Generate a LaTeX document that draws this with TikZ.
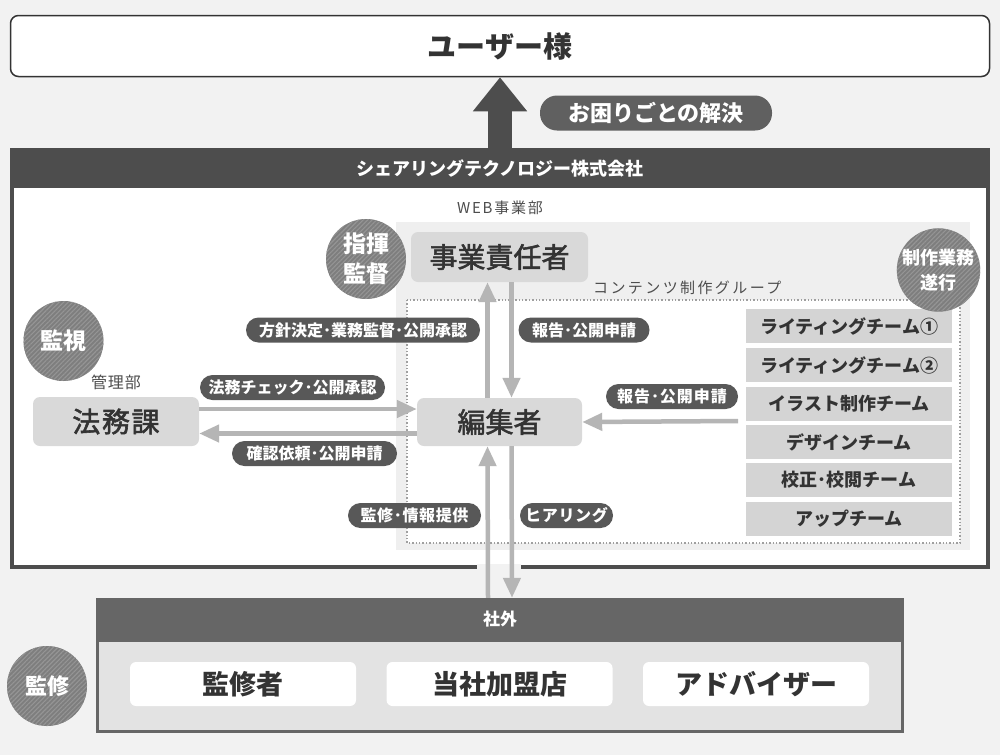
\documentclass[tikz,border=0pt]{standalone}
\usepackage{fontspec}
\setmainfont{Noto Sans CJK JP}
\newfontfamily\medfont{Noto Sans CJK JP}[FakeBold=2]
\usetikzlibrary{arrows.meta,patterns.meta}
\definecolor{bgc}{HTML}{F2F2F2}
\definecolor{darkc}{HTML}{4D4D4D}
\definecolor{pillc}{HTML}{585858}
\definecolor{pill2c}{HTML}{606060}
\definecolor{boxc}{HTML}{D9D9D9}
\definecolor{teamc}{HTML}{D4D4D4}
\definecolor{webc}{HTML}{EFEFEF}
\definecolor{arrc}{HTML}{B5B5B5}
\definecolor{txtc}{HTML}{333333}
\definecolor{hatchbase}{HTML}{7E7E7E}
\definecolor{hatchline}{HTML}{959595}
\definecolor{gaic}{HTML}{666666}
\definecolor{gaibody}{HTML}{E3E3E3}
\newcommand{\myfs}[1]{\fontsize{#1}{#1}\selectfont}
\newcommand{\hdot}{･}
\begin{document}
\begin{tikzpicture}[x=1pt,y=-1pt,
  pill/.style={rectangle, rounded corners=12.5pt, fill=pillc, text=white,
    font=\bfseries\myfs{16}, minimum height=25pt, inner sep=0pt},
  mainbox/.style={rectangle, rounded corners=7pt, fill=boxc, text=txtc,
    font=\medfont\myfs{28}, inner sep=0pt},
  teambox/.style={rectangle, fill=teamc, text=txtc, font=\bfseries\myfs{18},
    minimum width=206pt, minimum height=34pt, inner sep=0pt},
  gaibox/.style={rectangle, rounded corners=6pt, fill=white, text=txtc,
    font=\bfseries\myfs{27}, minimum width=226pt, minimum height=44pt, inner sep=0pt},
  hatch/.style={circle, fill=hatchbase, minimum size=80pt, inner sep=0pt,
    text=white, align=center,
    postaction={pattern={Lines[angle=45,distance=3.2pt,line width=1.1pt]}, pattern color=hatchline}},
  arr/.style={draw=arrc, line width=4.5pt, -{Triangle[length=20pt,width=17pt]}},
  smalllabel/.style={text=darkc, font=\myfs{15}, inner sep=0pt}
]
\useasboundingbox (0,0) rectangle (1000,755);
\fill[bgc] (0,0) rectangle (1000,755);

% user
\node[rectangle, rounded corners=8pt, draw=txtc, line width=1.5pt, fill=white,
  minimum width=979pt, minimum height=61pt, inner sep=0pt,
  font=\bfseries\myfs{29}, text=txtc] (user) at (500,46) {ユーザー様};

% company
\node[rectangle, fill=darkc, minimum width=980pt, minimum height=40pt, inner sep=0pt,
  text=white, font=\bfseries\myfs{18}] (company) at (500,168) {シェアリングテクノロジー株式会社};
\draw[darkc, line width=4pt, fill=white] (12,188) -- (12,567) -- (988,567) -- (988,188);
\fill[bgc] (477,564) rectangle (521,570);

% big arrow
\draw[darkc, line width=24pt, -{Triangle[length=34pt,width=52pt]}] (company.north) -- (user.south);
\node[pill, fill=pill2c, rounded corners=17pt, minimum width=232pt, minimum height=35pt,
  font=\bfseries\myfs{22}] (solve) at (656,113) {お困りごとの解決};

% WEB region
\fill[webc] (396,222) rectangle (970,550);
\node[smalllabel] (weblabel) at (500,208) {\addfontfeature{LetterSpace=12}WEB事業部};
\draw[draw=gray!75, line width=1.4pt, dotted, fill=white] (407,300) rectangle (960,543);
\node[smalllabel, anchor=west] (cglabel) at (593,288) {\addfontfeature{LetterSpace=16}コンテンツ制作グループ};

% main boxes
\node[mainbox, minimum width=177pt, minimum height=50pt] (resp) at (499.5,257) {事業責任者};
\node[mainbox, minimum width=165pt, minimum height=48pt] (edit) at (499.5,422) {編集者};
\node[mainbox, minimum width=166pt, minimum height=49pt] (legal) at (116,421.5) {\addfontfeature{LetterSpace=6}法務課};
\node[smalllabel, font=\myfs{16}] (kanri) at (116,382) {\addfontfeature{LetterSpace=6}管理部};

% teams
\node[teambox] (t1) at (849,326) {ライティングチーム①};
\node[teambox] (t2) at (849,365) {ライティングチーム②};
\node[teambox] (t3) at (849,404) {イラスト制作チーム};
\node[teambox] (t4) at (849,442) {デザインチーム};
\node[teambox] (t5) at (849,480) {校正\hdot 校閲チーム};
\node[teambox] (t6) at (849,519) {アップチーム};

% circles
\node[hatch, font=\bfseries\myfs{23}] (c1) at (63.5,341) {監視};
\node[hatch, font=\bfseries\myfs{23}] (c2) at (366,259) {指揮\\[7pt]監督};
\node[hatch, font=\bfseries\myfs{18}] (c3) at (938.5,270) {制作業務\\[7pt]遂行};
\node[hatch, font=\bfseries\myfs{22}] (c4) at (47,686) {監修};

% gaisha
\node[rectangle, fill=gaic, minimum width=808pt, minimum height=43pt, inner sep=0pt,
  text=white, font=\bfseries\myfs{17}] (gai) at (500,619.5) {社外};
\draw[gaic, line width=3pt, fill=gaibody] (97.5,640) rectangle (902.5,731.5);
\node[gaibox] (g1) at (243,684) {監修者};
\node[gaibox] (g2) at (499.5,684) {当社加盟店};
\node[gaibox] (g3) at (756,684) {アドバイザー};

% arrows
\draw[arr] ([xshift=-12pt]edit.north) -- ([xshift=-12pt]resp.south);
\draw[arr] ([xshift=12pt]resp.south) -- ([xshift=12pt]edit.north);
\draw[arr] ([yshift=12.5pt]legal.east) -- ([yshift=13pt]edit.west);
\draw[arr] ([yshift=-11.5pt]edit.west) -- ([yshift=-12pt]legal.east);
\coordinate (tfrom) at (738,421);
\draw[arr] (tfrom) -- (edit.east);
\draw[arr] ([xshift=-12pt]gai.north) -- ([xshift=-12pt]edit.south);
\draw[arr] ([xshift=12pt]edit.south) -- ([xshift=12pt]gai.north);

% labels
\node[pill, minimum width=234pt] (p1) at (363,330) {方針決定\hdot 業務監督\hdot 公開承認};
\node[pill, minimum width=131pt] (p2) at (584,330) {報告\hdot 公開申請};
\node[pill, minimum width=185pt] (p3) at (292.5,387.5) {法務チェック\hdot 公開承認};
\node[pill, minimum width=165pt] (p4) at (314.5,453.5) {確認依頼\hdot 公開申請};
\node[pill, minimum width=132pt] (p5) at (672,396.5) {\addfontfeature{LetterSpace=6}報告\hdot 公開申請};
\node[pill, minimum width=133pt] (p6) at (414.5,515.5) {\addfontfeature{LetterSpace=4}監修\hdot 情報提供};
\node[pill, minimum width=93pt] (p7) at (566.5,515.5) {\addfontfeature{LetterSpace=4}ヒアリング};
\end{tikzpicture}
\end{document}
